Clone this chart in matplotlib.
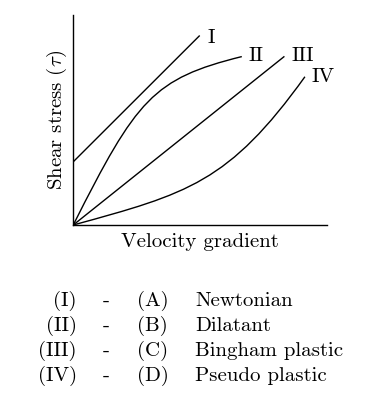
import matplotlib
matplotlib.use("Agg")
import matplotlib.pyplot as plt
from matplotlib.path import Path
from matplotlib.patches import PathPatch

plt.rcParams['font.family'] = 'serif'
plt.rcParams['font.serif'] = ['cmr10']
plt.rcParams['mathtext.fontset'] = 'cm'
plt.rcParams['axes.formatter.use_mathtext'] = True

# curves (x = velocity gradient, y = shear stress, both 0..1)
# straight ones: end points, curved ones: cubic bezier control points
curve_I_x = [0.0, 0.497]
curve_I_y = [0.301, 0.900]

curve_II_x = [0.0, 0.25, 0.315, 0.665]
curve_II_y = [0.0, 0.60, 0.697, 0.802]

curve_III_x = [0.0, 0.831]
curve_III_y = [0.0, 0.801]

curve_IV_x = [0.0, 0.45, 0.614, 0.914]
curve_IV_y = [0.0, 0.1485, 0.202, 0.706]

curve_names = ['I', 'II', 'III', 'IV']
name_pos = [(0.543, 0.89), (0.721, 0.805), (0.907, 0.805), (0.985, 0.705)]

roman = ['(I)', '(II)', '(III)', '(IV)']
letters = ['(A)', '(B)', '(C)', '(D)']
fluids = ['Newtonian', 'Dilatant', 'Bingham plastic', 'Pseudo plastic']

fs = 15

fig = plt.figure(figsize=(3.7, 3.98), dpi=100)
ax = fig.add_axes([0.198, 0.4347, 0.685, 0.5276])

lw = 1.0
ax.plot(curve_I_x, curve_I_y, color='black', lw=lw)
ax.plot(curve_III_x, curve_III_y, color='black', lw=lw)

bez = [Path.MOVETO, Path.CURVE4, Path.CURVE4, Path.CURVE4]
for cx, cy in [(curve_II_x, curve_II_y), (curve_IV_x, curve_IV_y)]:
    p = Path(list(zip(cx, cy)), bez)
    ax.add_patch(PathPatch(p, facecolor='none', edgecolor='black', lw=lw))

for name, (x, y) in zip(curve_names, name_pos):
    ax.text(x, y, name, fontsize=fs, ha='center', va='center', clip_on=False)

ax.set_xlim(0, 1)
ax.set_ylim(0, 1)
ax.spines['top'].set_visible(False)
ax.spines['right'].set_visible(False)
ax.spines['left'].set_linewidth(1.0)
ax.spines['bottom'].set_linewidth(1.0)
ax.set_xticks([])
ax.set_yticks([])
ax.set_xlabel('Velocity gradient', fontsize=fs, labelpad=6)
ax.set_ylabel(r'Shear stress ($\tau$)', fontsize=fs, labelpad=3)

# matching table under the plot
row_y = [301, 326, 350.5, 376]
for i in range(4):
    yf = 1 - row_y[i] / 398
    fig.text(76.7 / 370, yf, roman[i], fontsize=fs, ha='right', va='center')
    fig.text(106 / 370, yf, '-', fontsize=fs, ha='center', va='center')
    fig.text(136.7 / 370, yf, letters[i], fontsize=fs, ha='left', va='center')
    fig.text(195 / 370, yf, fluids[i], fontsize=fs, ha='left', va='center')

fig.savefig('out.png', dpi=100)
